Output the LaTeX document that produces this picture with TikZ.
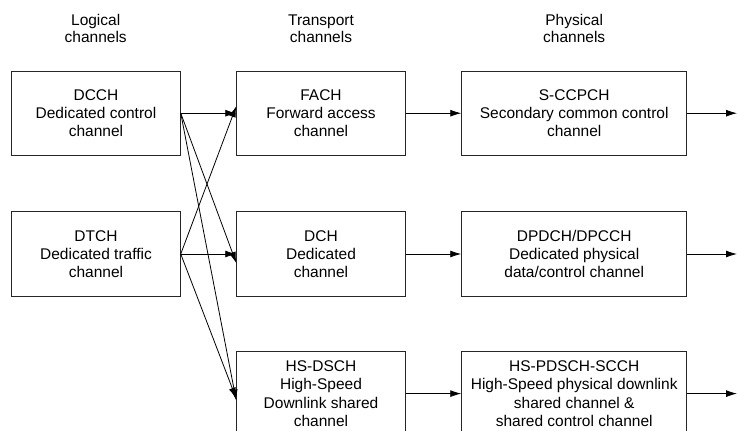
\documentclass[tikz,border=0pt]{standalone}
\usepackage{fontspec}
\setmainfont{Liberation Sans}
\usetikzlibrary{arrows.meta}
\tikzset{
  chbox/.style={draw=black!85, line width=0.9pt, inner sep=0pt, align=center,
    minimum height=84.3pt, font=\fontsize{15.5}{18.3}\selectfont},
  narrowbox/.style={chbox, minimum width=168.6pt},
  widebox/.style={chbox, minimum width=225pt},
  header/.style={align=center, inner sep=0pt, font=\fontsize{15.5}{17.5}\selectfont},
  flow/.style={draw=black, line width=0.8pt, -{Latex[length=11pt,width=7pt]}}
}
\begin{document}
\begin{tikzpicture}[x=1pt,y=-1pt]
\useasboundingbox (0,0) rectangle (737,431);
\clip (0,0) rectangle (737,431);
% headers
\node[header] (hl) at (95.7,28.5) {Logical\\channels};
\node[header] (ht) at (321,28.5) {Transport\\channels};
\node[header] (hp) at (574.2,28.5) {Physical\\channels};
% column 1
\node[narrowbox] (dcch) at (96,113.2) {DCCH\\Dedicated control\\channel};
\node[narrowbox] (dtch) at (96,254) {DTCH\\Dedicated traffic\\channel};
% column 2
\node[narrowbox] (fach) at (321,113.2) {FACH\\Forward access\\channel};
\node[narrowbox] (dch) at (321,254) {DCH\\Dedicated\\channel};
\node[narrowbox] (hsdsch) at (321,393.6) {HS-DSCH\\High-Speed\\Downlink shared\\channel};
% column 3
\node[widebox] (sccpch) at (574.2,113.2) {S-CCPCH\\Secondary common control\\channel};
\node[widebox] (dpdch) at (574.2,254) {DPDCH/DPCCH\\Dedicated physical\\data/control channel};
\node[widebox] (hspdsch) at (574.2,393.6) {HS-PDSCH-SCCH\\High-Speed physical downlink\\shared channel \&\\shared control channel};
% free ends
\coordinate (o1) at (737,113.2);
\coordinate (o2) at (737,254);
\coordinate (o3) at (737,393.6);
% logical -> transport
\draw[flow] (dcch.east) -- (fach.west);
\draw[flow] (dcch.east) -- ([yshift=-9pt]dch.west);
\draw[flow] (dcch.east) -- ([yshift=-7pt]hsdsch.west);
\draw[flow] (dtch.east) -- ([yshift=7pt]fach.west);
\draw[flow] (dtch.east) -- (dch.west);
\draw[flow] (dtch.east) -- ([yshift=-5pt]hsdsch.west);
% transport -> physical
\draw[flow] (fach.east) -- (sccpch.west);
\draw[flow] (dch.east) -- (dpdch.west);
\draw[flow] (hsdsch.east) -- (hspdsch.west);
% physical -> out
\draw[flow] (sccpch.east) -- (o1);
\draw[flow] (dpdch.east) -- (o2);
\draw[flow] (hspdsch.east) -- (o3);
\end{tikzpicture}
\end{document}
